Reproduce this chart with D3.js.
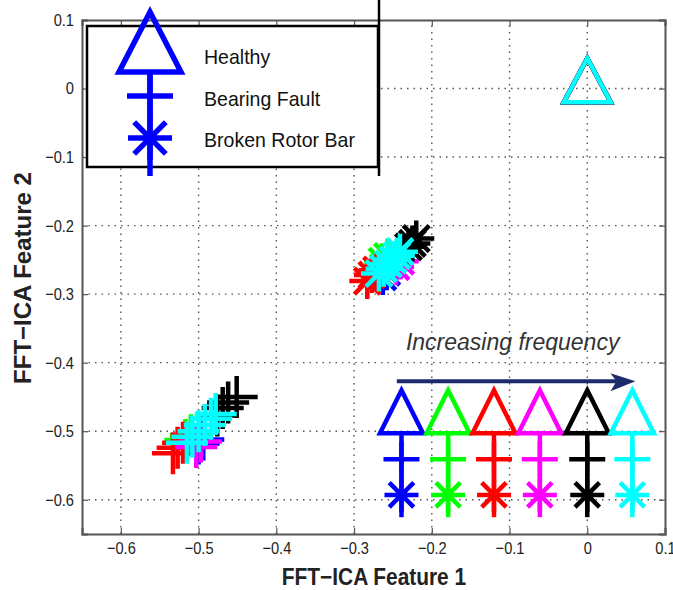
<!DOCTYPE html>
<html>
<head>
<meta charset="utf-8">
<script src="https://cdn.jsdelivr.net/npm/d3@7"></script>
<style>
  body { margin: 0; background: #fff; }
  text { font-family: "Liberation Sans", Arial, sans-serif; }
</style>
</head>
<body>
<div id="chart"></div>
<script>
"use strict";

// frequency colours, low -> high
const freqColors = ["#0000ff", "#00ff00", "#ff0000", "#ff00ff", "#000000", "#00ffff"];

// Healthy (triangle) samples per frequency
const healthyPts = [
  [[0.000, 0.012]], [[0.000, 0.012]], [[0.000, 0.012]],
  [[0.000, 0.012]], [[0.000, 0.012]], [[0.000, 0.012]]
];

// Bearing fault (plus) samples per frequency
const bearingPts = [
  [[-0.500, -0.518], [-0.494, -0.512]],
  [[-0.517, -0.513], [-0.510, -0.506]],
  [[-0.533, -0.532], [-0.527, -0.524], [-0.520, -0.517]],
  [[-0.503, -0.523], [-0.497, -0.515]],
  [[-0.476, -0.477], [-0.469, -0.466], [-0.462, -0.458], [-0.451, -0.450]],
  [[-0.515, -0.517], [-0.508, -0.508], [-0.500, -0.500], [-0.492, -0.491], [-0.484, -0.482], [-0.478, -0.475]]
];

// Broken rotor bar (star) samples per frequency
const rotorPts = [
  [[-0.263, -0.275], [-0.258, -0.268]],
  [[-0.264, -0.252], [-0.257, -0.245]],
  [[-0.283, -0.281], [-0.277, -0.272], [-0.271, -0.265]],
  [[-0.246, -0.260], [-0.240, -0.252]],
  [[-0.230, -0.231], [-0.225, -0.226], [-0.220, -0.219]],
  [[-0.268, -0.270], [-0.262, -0.263], [-0.256, -0.256], [-0.250, -0.250], [-0.245, -0.244], [-0.241, -0.238]]
];

const xTicks = [-0.6, -0.5, -0.4, -0.3, -0.2, -0.1, 0, 0.1];
const yTicks = [-0.6, -0.5, -0.4, -0.3, -0.2, -0.1, 0, 0.1];
const legendLabels = ["Healthy", "Bearing Fault", "Broken Rotor Bar"];

// "increasing frequency" key, in data units
const keyX = [-0.239, -0.179, -0.120, -0.061, 0.000, 0.058];
const keyY = {tri: -0.4715, plus: -0.541, star: -0.593, lineTop: -0.503, lineBot: -0.6255};

const W = 673, H = 590;
const svg = d3.select("#chart").append("svg").attr("width", W).attr("height", H);

const x = d3.scaleLinear().domain([-0.65, 0.1]).range([82, 665]);
const y = d3.scaleLinear().domain([-0.65, 0.1]).range([534, 20]);

const fmt = v => v === 0 ? "0" : d3.format(".1f")(v).replace("-", "\u2212");

// the original picture is squeezed horizontally: squeeze the horizontal texts too
function condense(sel, k) {
  sel.each(function() {
    let len = this.getComputedTextLength();
    d3.select(this).attr("textLength", len * k).attr("lengthAdjust", "spacingAndGlyphs");
  });
}

// marker paths
function triPath(w, h) {
  return `M0,${-h/2}L${w/2},${h/2}L${-w/2},${h/2}Z`;
}
function plusPath(s) {
  return `M${-s/2},0H${s/2}M0,${-s/2}V${s/2}`;
}
function starPath(s) {
  let r = s/2, d = r*0.72;
  return plusPath(s) + `M${-d},${-d}L${d},${d}M${-d},${d}L${d},${-d}`;
}

// Grid
let grid = svg.append("g").attr("class", "grid");
grid.selectAll(".gx").data(xTicks.filter(t => t < 0.1)).enter()
  .append("line")
  .attr("x1", d => x(d)).attr("x2", d => x(d))
  .attr("y1", y(-0.65)).attr("y2", y(0.1))
  .attr("stroke", "#555").attr("stroke-width", 1.4)
  .attr("stroke-dasharray", "1.5,5");
grid.selectAll(".gy").data(yTicks.filter(t => t < 0.1)).enter()
  .append("line")
  .attr("y1", d => y(d)).attr("y2", d => y(d))
  .attr("x1", x(-0.65)).attr("x2", x(0.1))
  .attr("stroke", "#555").attr("stroke-width", 1.4)
  .attr("stroke-dasharray", "1.5,5");

// Axes (ticks inward, box)
let xAxis = d3.axisBottom(x).tickValues(xTicks).tickSize(-6).tickPadding(8).tickFormat(fmt);
let yAxis = d3.axisLeft(y).tickValues(yTicks).tickSize(-6).tickPadding(8).tickFormat(fmt);

svg.append("g").attr("class", "xAxis")
  .attr("transform", `translate(0,${y(-0.65)})`)
  .call(xAxis);
svg.append("g").attr("class", "yAxis")
  .attr("transform", `translate(${x(-0.65)},0)`)
  .call(yAxis);
svg.append("g")
  .attr("transform", `translate(0,${y(0.1)})`)
  .call(d3.axisTop(x).tickValues(xTicks).tickSize(-6).tickFormat(""));
svg.append("g")
  .attr("transform", `translate(${x(0.1)},0)`)
  .call(d3.axisRight(y).tickValues(yTicks).tickSize(-6).tickFormat(""));

svg.selectAll(".domain").attr("stroke", "#555").attr("stroke-width", 2);
svg.selectAll(".tick line").attr("stroke", "#555").attr("stroke-width", 1.2);
svg.selectAll(".tick text").attr("font-size", 17).attr("fill", "#222")
  .attr("font-family", "Liberation Sans, Arial, sans-serif");
condense(svg.selectAll(".xAxis .tick text, .yAxis .tick text"), 0.86);

// Axis labels
svg.append("text")
  .attr("x", 374).attr("y", 585)
  .attr("text-anchor", "middle")
  .attr("font-size", 24).attr("font-weight", "bold")
  .attr("fill", "#222")
  .text("FFT\u2212ICA Feature 1")
  .call(condense, 0.87);
svg.append("text")
  .attr("transform", "translate(31,278)rotate(-90)")
  .attr("text-anchor", "middle")
  .attr("font-size", 24).attr("font-weight", "bold")
  .attr("fill", "#222")
  .text("FFT\u2212ICA Feature 2");

// Data markers, one frequency at a time
let marks = svg.append("g").attr("class", "marks")
  .attr("fill", "none").attr("stroke-width", 4.5).attr("stroke-linejoin", "miter");

freqColors.forEach((col, i) => {
  marks.selectAll(null).data(healthyPts[i]).enter()
    .append("path")
    .attr("d", triPath(47, 44))
    .attr("transform", d => `translate(${x(d[0])},${y(d[1])})`)
    .attr("stroke", col);
  marks.selectAll(null).data(bearingPts[i]).enter()
    .append("path")
    .attr("d", plusPath(42))
    .attr("transform", d => `translate(${x(d[0])},${y(d[1])})`)
    .attr("stroke", col);
  marks.selectAll(null).data(rotorPts[i]).enter()
    .append("path")
    .attr("d", starPath(36))
    .attr("transform", d => `translate(${x(d[0])},${y(d[1])})`)
    .attr("stroke", col);
});

// Legend (top left)
let leg = svg.append("g").attr("class", "legend");
leg.append("rect")
  .attr("x", 87).attr("y", 26).attr("width", 291).attr("height", 141)
  .attr("fill", "#fff").attr("stroke", "#000").attr("stroke-width", 2.5);
leg.append("line")
  .attr("x1", 379).attr("x2", 379).attr("y1", 0).attr("y2", 176)
  .attr("stroke", "#000").attr("stroke-width", 2.5);

let lg = leg.append("g").attr("stroke", freqColors[0]).attr("fill", "none").attr("stroke-width", 5.5);
lg.append("line").attr("x1", 150).attr("x2", 150).attr("y1", 72).attr("y2", 176);
lg.append("path").attr("d", triPath(62, 60)).attr("transform", "translate(150,42)");
lg.append("path").attr("d", plusPath(46)).attr("transform", "translate(150,96)");
lg.append("path").attr("d", starPath(44)).attr("transform", "translate(150,138)");

leg.selectAll(".legText").data(legendLabels).enter()
  .append("text")
  .attr("class", "legText")
  .attr("x", 204)
  .attr("y", (d, i) => 64 + i*41.5)
  .attr("font-size", 21).attr("fill", "#111")
  .text(d => d)
  .call(condense, 0.93);

// Increasing frequency key (bottom right)
let key = svg.append("g").attr("class", "freqKey");
key.append("text")
  .attr("x", x(-0.096)).attr("y", y(-0.382))
  .attr("text-anchor", "middle")
  .attr("font-size", 23).attr("font-style", "italic")
  .attr("fill", "#333")
  .text("Increasing frequency");
key.append("line")
  .attr("x1", x(-0.245)).attr("x2", x(0.052))
  .attr("y1", y(-0.427)).attr("y2", y(-0.427))
  .attr("stroke", "#1c2b6b").attr("stroke-width", 4);
key.append("path")
  .attr("d", `M${x(0.062)},${y(-0.427)}l-25,-8l6,8l-6,10Z`)
  .attr("fill", "#1c2b6b");

let cols = key.selectAll(".keyCol").data(keyX).enter()
  .append("g").attr("class", "keyCol")
  .attr("fill", "none").attr("stroke-width", 4.5)
  .attr("stroke", (d, i) => freqColors[i]);
cols.append("line")
  .attr("x1", d => x(d)).attr("x2", d => x(d))
  .attr("y1", y(keyY.lineTop)).attr("y2", y(keyY.lineBot));
cols.append("path").attr("d", triPath(43, 43))
  .attr("transform", d => `translate(${x(d)},${y(keyY.tri)})`);
cols.append("path").attr("d", plusPath(36))
  .attr("transform", d => `translate(${x(d)},${y(keyY.plus)})`);
cols.append("path").attr("d", starPath(34))
  .attr("transform", d => `translate(${x(d)},${y(keyY.star)})`);
</script>
</body>
</html>
